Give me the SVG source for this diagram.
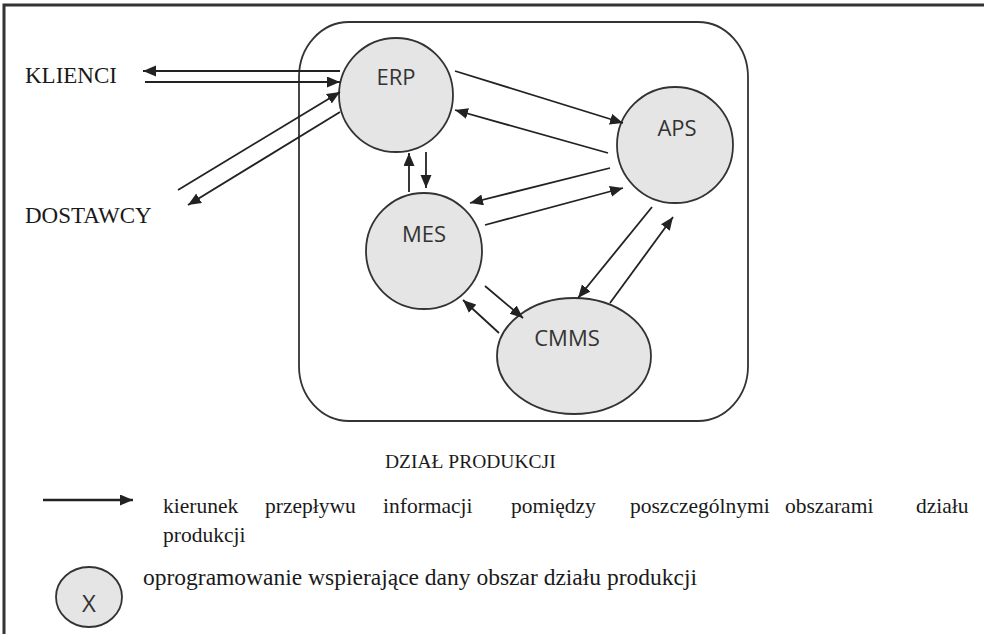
<svg xmlns="http://www.w3.org/2000/svg" width="984" height="634" viewBox="0 0 984 634">
<style>
.node{fill:#e5e5e5;stroke:#333;stroke-width:1.8}
.nl{font-family:"Open Sans","Liberation Sans",sans-serif;font-size:22px;fill:#333;text-anchor:middle}
.tx{font-family:"Liberation Serif","Times New Roman",serif;fill:#1a1a1a}
.con line{stroke:#222;stroke-width:1.8;marker-end:url(#ah)}
</style>
<defs>
<marker id="ah" markerUnits="userSpaceOnUse" markerWidth="14" markerHeight="12" refX="13" refY="5.5" orient="auto">
<path d="M0,0 L13,5.5 L0,11 z" fill="#222"/>
</marker>
</defs>
<rect width="984" height="634" fill="#fff"/>
<path d="M4,634 V5 H984" fill="none" stroke="#333" stroke-width="3"/>
<g id="dzial">
<rect x="299" y="22" width="449" height="399" rx="50" ry="55" fill="none" stroke="#333" stroke-width="1.8"/>
<text class="tx" x="385" y="468" font-size="19.5">DZIAŁ PRODUKCJI</text>
</g>
<g id="klienci"><text class="tx" x="25" y="83" font-size="23">KLIENCI</text></g>
<g id="dostawcy"><text class="tx" x="25" y="223" font-size="23">DOSTAWCY</text></g>
<g id="erp"><circle class="node" cx="396" cy="95" r="57"/><text class="nl" x="396" y="85">ERP</text></g>
<g id="aps"><circle class="node" cx="675" cy="145" r="58"/><text class="nl" x="677" y="136">APS</text></g>
<g id="mes"><circle class="node" cx="424" cy="251" r="58"/><text class="nl" x="424" y="242">MES</text></g>
<g id="cmms"><ellipse class="node" cx="574" cy="356" rx="77" ry="58"/><text class="nl" x="567" y="346">CMMS</text></g>
<g id="connectors" class="con">
<line x1="340" y1="71" x2="143" y2="71"/>
<line x1="145" y1="82" x2="340" y2="82"/>
<line x1="178" y1="190" x2="340" y2="92"/>
<line x1="340" y1="112" x2="188" y2="205"/>
<line x1="409" y1="192" x2="409" y2="153"/>
<line x1="426" y1="152" x2="426" y2="188"/>
<line x1="455" y1="71" x2="623" y2="123"/>
<line x1="608" y1="153" x2="455" y2="110"/>
<line x1="610" y1="168" x2="470" y2="203"/>
<line x1="485" y1="225" x2="623" y2="188"/>
<line x1="652" y1="207" x2="578" y2="298"/>
<line x1="610" y1="303" x2="673" y2="217"/>
<line x1="485" y1="286" x2="523" y2="318"/>
<line x1="499" y1="333" x2="463" y2="300"/>
</g>
<g id="legenda">
<line x1="43" y1="500" x2="133" y2="500" stroke="#222" stroke-width="2.4" marker-end="url(#ah)"/>
<text class="tx" y="513" font-size="21.5"><tspan x="163">kierunek</tspan><tspan x="265">przepływu</tspan><tspan x="383">informacji</tspan><tspan x="511">pomiędzy</tspan><tspan x="630">poszczególnymi</tspan><tspan x="785">obszarami</tspan><tspan x="916">działu</tspan></text>
<text class="tx" x="163" y="542" font-size="21.5">produkcji</text>
<ellipse cx="89" cy="597" rx="33" ry="30" fill="#e5e5e5" stroke="#333" stroke-width="1.8"/>
<text class="nl" x="89" y="612" style="font-size:24px">X</text>
<text class="tx" x="143" y="585" font-size="23.5">oprogramowanie wspierające dany obszar działu produkcji</text>
</g>
</svg>
